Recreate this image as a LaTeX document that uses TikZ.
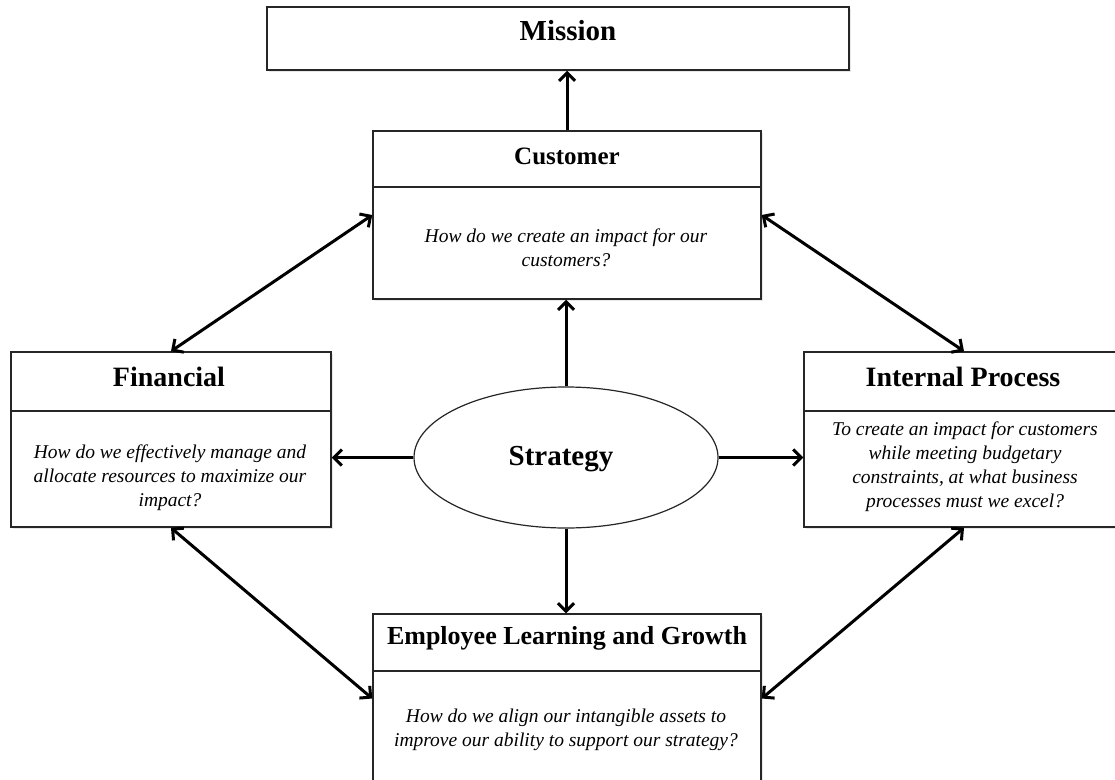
\documentclass[tikz,border=0pt]{standalone}
\usepackage{fontspec}
\setmainfont{Liberation Serif}
\usetikzlibrary{arrows.meta,shapes.geometric,shadows}
\begin{document}
\begin{tikzpicture}[x=1pt,y=-1pt,
 box/.style={draw=black!85, line width=1.5pt, fill=white, inner sep=0pt,
   drop shadow={opacity=0.18, shadow xshift=2pt, shadow yshift=-2pt}},
 head/.style={font=\bfseries\fontsize{27}{30}\selectfont, inner sep=0pt},
 body/.style={font=\itshape\fontsize{19.5}{24}\selectfont, align=center, inner sep=0pt},
 tip/.tip={Straight Barb[length=8pt,width=16pt]},
 arr/.style={line width=3pt, -tip},
 darr/.style={line width=3pt, tip-tip},
 divline/.style={line width=1.5pt, draw=black!85}]
\useasboundingbox (0,0) rectangle (1115,779);
\fill[white] (0,0) rectangle (1115,779);

% boxes
\node[box, minimum width=582pt, minimum height=63pt] (mission) at (558,38.5) {};
\node[box, minimum width=388pt, minimum height=168pt] (customer) at (567,215) {};
\node[box, minimum width=320pt, minimum height=175pt] (financial) at (171,439.5) {};
\node[box, minimum width=320pt, minimum height=175pt] (internal) at (964,439.5) {};
\node[box, minimum width=388pt, minimum height=169pt] (employee) at (567,698.5) {};
\node[draw=black!85, line width=1.2pt, fill=white, ellipse, inner sep=0pt,
      minimum width=304pt, minimum height=141pt] (strategy) at (566,457.5) {};

% dividers
\draw[divline] (customer.west |- 0,187) -- (customer.east |- 0,187);
\draw[divline] (financial.west |- 0,411) -- (financial.east |- 0,411);
\draw[divline] (internal.west |- 0,411) -- (internal.east |- 0,411);
\draw[divline] (employee.west |- 0,671) -- (employee.east |- 0,671);

% texts
\node[head, font=\bfseries\fontsize{29}{32}\selectfont] (missiont) at (568,31) {Mission};
\node[head, font=\bfseries\fontsize{25}{28}\selectfont] (customert) at (567,156) {Customer};
\node[head, font=\bfseries\fontsize{28}{30}\selectfont] (financialt) at (169,377) {Financial};
\node[head, font=\bfseries\fontsize{28}{30}\selectfont] (internalt) at (963,377) {Internal Process};
\node[head, font=\bfseries\fontsize{26}{28}\selectfont] (employeet) at (567,638) {Employee Learning and Growth};
\node[head, font=\bfseries\fontsize{29}{32}\selectfont] (strategyt) at (561,459) {Strategy};

\node[body] (customerb) at (566,247.5) {How do we create an impact for our\\customers?};
\node[body] (financialb) at (170,478) {How do we effectively manage and\\allocate resources to maximize our\\impact?};
\node[body] (internalb) at (965,467) {To create an impact for customers\\while meeting budgetary\\constraints, at what business\\processes must we excel?};
\node[body] (employeeb) at (566,730) {How do we align our intangible assets to\\improve our ability to support our strategy?};

% connectors
\draw[arr] (customer.north) -- (customer.north |- mission.south);
\draw[arr] (strategy.north) -- (strategy.north |- customer.south);
\draw[arr] (strategy.west) -- (strategy.west -| financial.east);
\draw[arr] (strategy.east) -- (strategy.east -| internal.west);
\draw[arr] (strategy.south) -- (strategy.south |- employee.north);
\draw[darr] (customer.west) -- (financial.north);
\draw[darr] (customer.east) -- (internal.north);
\draw[darr] (financial.south) -- (employee.west);
\draw[darr] (internal.south) -- (employee.east);
\end{tikzpicture}
\end{document}
